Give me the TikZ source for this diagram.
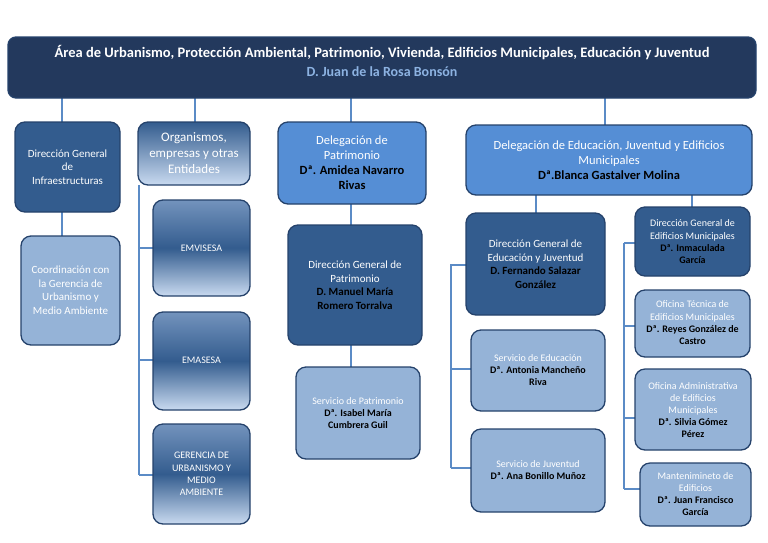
\documentclass[tikz,border=0pt]{standalone}
\usepackage{fontspec}
\setmainfont{Carlito}
\begin{document}
\begin{tikzpicture}[x=1pt,y=-1pt,
 dark/.style={fill=cDark,draw=cBord,line width=1.3pt,rounded corners=10pt},
 light/.style={fill=cLight,draw=cBord,line width=1.3pt,rounded corners=10pt},
 mid/.style={fill=cMid,draw=cBord,line width=1.3pt,rounded corners=10pt},
 grad/.style={top color=cG1,bottom color=cLightG,middle color=cDark,draw=cBord,line width=1.3pt,rounded corners=10pt},
 gradh/.style={top color=cDark,bottom color=cLightG,draw=cBord,line width=1.3pt,rounded corners=10pt},
 wt/.style={text=white,align=center,inner sep=1pt,font=\fontsize{11}{13.5}\selectfont},
 sm/.style={font=\fontsize{10}{12.3}\selectfont},
 conn/.style={draw=cLine,line width=1.2pt}]
\definecolor{cDark}{HTML}{335C8E}
\definecolor{cBord}{HTML}{25426B}
\definecolor{cLight}{HTML}{95B3D7}
\definecolor{cMid}{HTML}{558ED5}
\definecolor{cG1}{HTML}{7393BD}
\definecolor{cLightG}{HTML}{C9DAF0}
\definecolor{cTop}{HTML}{23395D}
\definecolor{cLine}{HTML}{5B8BC6}
\definecolor{cName}{HTML}{8DB3E2}
\useasboundingbox (0,0) rectangle (768,542);
% connectors
\coordinate (t1) at (62,98); \coordinate (t2) at (195,98); \coordinate (t3) at (351,98); \coordinate (t4) at (605,98);
\coordinate (b1) at (62,122); \coordinate (b2) at (195,122); \coordinate (b3) at (351,122); \coordinate (b4) at (605,125);
\foreach \i in {1,2,3,4} \draw[conn] (t\i) -- (b\i);
\draw[conn] (62,212) -- (62,236);
\draw[conn] (351,204) -- (351,225);
\draw[conn] (351,345) -- (351,367);
\draw[conn] (536,195) -- (536,213);
\draw[conn] (692,195) -- (692,207);
\draw[conn] (139,185) -- (139,475);
\foreach \y in {248,360,475} \draw[conn] (139,\y) -- (153,\y);
\draw[conn] (466,265) -- (451,265) -- (451,468);
\foreach \y in {369,468} \draw[conn] (451,\y) -- (471,\y);
\draw[conn] (624,243) -- (624,489);
\foreach \y in {243,326,418} \draw[conn] (624,\y) -- (635,\y);
\draw[conn] (624,489) -- (640,489);
% boxes
\filldraw[fill=cTop,draw=cBord,line width=1.3pt,rounded corners=8pt] (8,37) rectangle (756,98);
\node (top) at (382,53) [text=white,font=\bfseries\fontsize{14.5}{16}\selectfont] {Área de Urbanismo, Protección Ambiental, Patrimonio, Vivienda, Edificios Municipales, Educación y Juventud};
\node (topn) at (382,72) [text=cName,font=\bfseries\fontsize{14}{16}\selectfont] {D. Juan de la Rosa Bonsón};

\draw[dark] (15,122) rectangle (120,212);
\node (dgi) at (67.5,167) [wt] {Dirección General\\de\\Infraestructuras};
\draw[light] (21,236) rectangle (120,345);
\node (coord) at (70.5,290) [wt] {Coordinación con\\la Gerencia de\\Urbanismo y\\Medio Ambiente};

\draw[gradh] (138,122) rectangle (250,185);
\node (org) at (194,153) [text=white,align=center,font=\fontsize{13}{16}\selectfont] {Organismos,\\empresas y otras\\Entidades};
\draw[grad] (153,200) rectangle (250,296);
\node (emv) at (201.5,248) [wt,sm] {EMVISESA};
\draw[grad] (153,312) rectangle (250,410);
\node (ema) at (201.5,360) [wt,sm] {EMASESA};
\draw[grad] (153,424) rectangle (250,524);
\node (ger) at (201.5,474) [wt,sm] {GERENCIA DE\\URBANISMO Y\\MEDIO\\AMBIENTE};

\draw[mid] (278,122) rectangle (426,204);
\node (dp) at (352,163) [wt,font=\fontsize{12.5}{15}\selectfont] {Delegación de\\Patrimonio\\\textcolor{black}{\bfseries Dª. Amidea Navarro}\\\textcolor{black}{\bfseries Rivas}};
\draw[dark] (288,225) rectangle (422,345);
\node (dgp) at (355,285) [wt] {Dirección General de\\Patrimonio\\\textcolor{black}{\bfseries D. Manuel María}\\\textcolor{black}{\bfseries Romero Torralva}};
\draw[light] (296,367) rectangle (420,459);
\node (sp) at (358,413) [wt,sm] {Servicio de Patrimonio\\\textcolor{black}{\bfseries Dª. Isabel María}\\\textcolor{black}{\bfseries Cumbrera Guil}};

\draw[mid] (466,125) rectangle (752,195);
\node (de) at (609,160) [wt,font=\fontsize{12.5}{15}\selectfont] {Delegación de Educación, Juventud y Edificios\\Municipales\\\textcolor{black}{\bfseries Dª.Blanca Gastalver Molina}};
\draw[dark] (466,213) rectangle (605,315);
\node (dge) at (535.5,264) [wt] {Dirección General de\\Educación y Juventud\\\textcolor{black}{\bfseries D. Fernando Salazar}\\\textcolor{black}{\bfseries González}};
\draw[light] (471,330) rectangle (605,411);
\node (se) at (538,370) [wt,sm] {Servicio de Educación\\\textcolor{black}{\bfseries Dª. Antonia Mancheño}\\\textcolor{black}{\bfseries Riva}};
\draw[light] (471,429) rectangle (605,512);
\node (sj) at (538,470) [wt,sm] {Servicio de Juventud\\\textcolor{black}{\bfseries Dª. Ana Bonillo Muñoz}};

\draw[dark] (635,207) rectangle (750,276);
\node (dged) at (692.5,242) [wt,sm] {Dirección General de\\Edificios Municipales\\\textcolor{black}{\bfseries Dª. Inmaculada}\\\textcolor{black}{\bfseries García}};
\draw[light] (635,290) rectangle (750,357);
\node (ot) at (692.5,323) [wt,sm] {Oficina Técnica de\\Edificios Municipales\\\textcolor{black}{\bfseries Dª. Reyes González de}\\\textcolor{black}{\bfseries Castro}};
\draw[light] (635,369) rectangle (751,450);
\node (oa) at (693,410) [wt,font=\fontsize{10}{12}\selectfont] {Oficina Administrativa\\de Edificios\\Municipales\\\textcolor{black}{\bfseries Dª. Silvia Gómez}\\\textcolor{black}{\bfseries Pérez}};
\draw[light] (640,463) rectangle (751,526);
\node (mt) at (695.5,494) [wt,font=\fontsize{10}{12}\selectfont] {Mantenimineto de\\Edificios\\\textcolor{black}{\bfseries Dª. Juan Francisco}\\\textcolor{black}{\bfseries García}};
\end{tikzpicture}
\end{document}
